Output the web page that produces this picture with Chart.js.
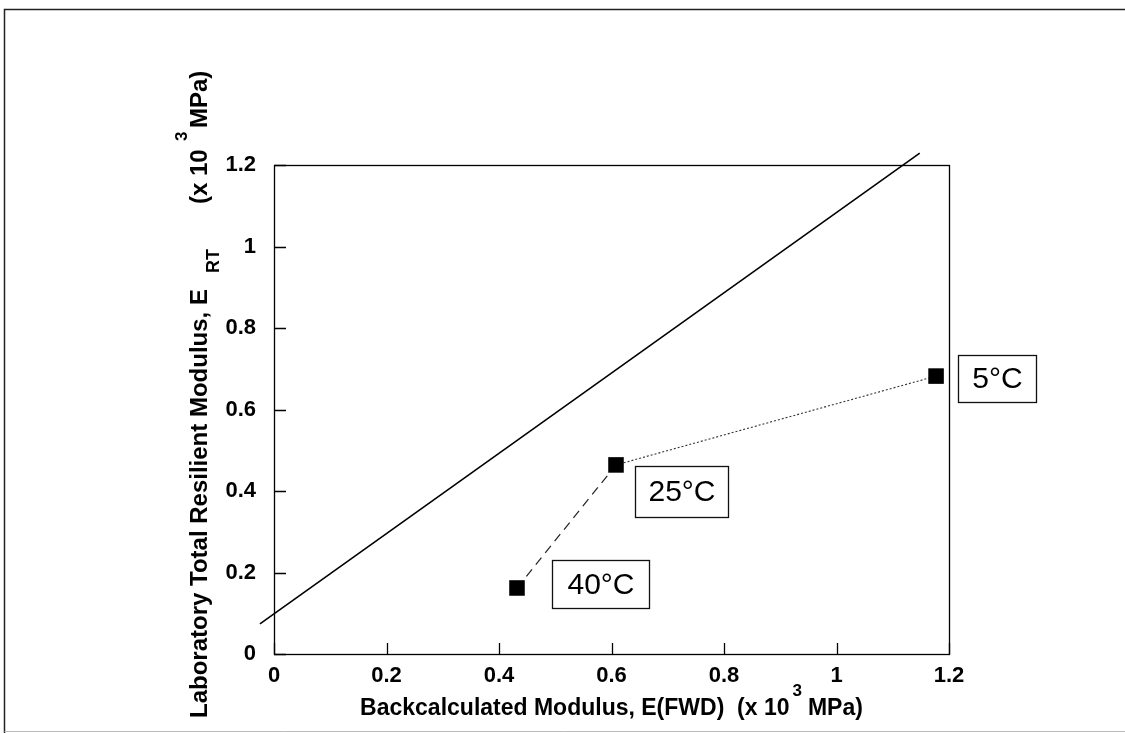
<!DOCTYPE html>
<html>
<head>
<meta charset="utf-8">
<script src="https://cdn.jsdelivr.net/npm/chart.js@4/dist/chart.umd.min.js"></script>
<style>
  html, body { margin: 0; padding: 0; background: #fff; }
  #wrap { width: 1125px; height: 733px; position: relative; }
</style>
</head>
<body>
<div id="wrap"><canvas id="c" width="1125" height="733"></canvas></div>
<script>
// ---- data ----
const tempLabels = ["40°C", "25°C", "5°C"];
const fwdModulus = [0.432, 0.608, 1.177];      // x: backcalculated E(FWD), x10^3 MPa
const labModulus = [0.162, 0.464, 0.682];      // y: lab total resilient modulus, x10^3 MPa
const equalityX = [-0.025, 1.148];
const equalityY = [0.074, 1.229];
const xTickValues = [0, 0.2, 0.4, 0.6, 0.8, 1, 1.2];
const yTickValues = [0, 0.2, 0.4, 0.6, 0.8, 1, 1.2];

const pts = fwdModulus.map((x, i) => ({ x: x, y: labModulus[i] }));
const eqLine = equalityX.map((x, i) => ({ x: x, y: equalityY[i] }));

// label box placement relative to point pixel (style only)
const boxOffsets = [
  { dx: 35, dy: -28, w: 97, h: 48 },
  { dx: 19, dy: 1, w: 93, h: 51 },
  { dx: 22, dy: -21, w: 78, h: 47 }
];

const fmt = v => String(+v.toFixed(1));
const FAM = '"Liberation Sans", Arial, sans-serif';

const decorPlugin = {
  id: 'decor',
  beforeDraw(chart) {
    const ctx = chart.ctx;
    ctx.save();
    ctx.fillStyle = '#fff';
    ctx.fillRect(0, 0, chart.width, chart.height);
    ctx.strokeStyle = '#222';
    ctx.lineWidth = 1.5;
    ctx.beginPath();
    ctx.moveTo(4.5, 733);
    ctx.lineTo(4.5, 9.5);
    ctx.lineTo(1125, 9.5);
    ctx.stroke();
    ctx.strokeStyle = '#bbb';
    ctx.lineWidth = 1;
    ctx.beginPath();
    ctx.moveTo(4.5, 731.5);
    ctx.lineTo(1125, 731.5);
    ctx.stroke();
    ctx.restore();
  },
  afterDraw(chart) {
    const ctx = chart.ctx;
    const a = chart.chartArea;
    const xs = chart.scales.x, ys = chart.scales.y;
    ctx.save();
    ctx.strokeStyle = '#000';
    ctx.lineWidth = 1.3;
    ctx.strokeRect(a.left + 0.5, a.top + 0.5, a.right - a.left, a.bottom - a.top);
    ctx.beginPath();
    xTickValues.forEach(v => {
      const px = Math.round(xs.getPixelForValue(v)) + 0.5;
      ctx.moveTo(px, a.bottom);
      ctx.lineTo(px, a.bottom - 11);
    });
    yTickValues.forEach(v => {
      const py = Math.round(ys.getPixelForValue(v)) + 0.5;
      ctx.moveTo(a.left, py);
      ctx.lineTo(a.left + 12, py);
    });
    ctx.stroke();

    // label boxes
    ctx.font = '30px ' + FAM;
    ctx.textAlign = 'center';
    ctx.textBaseline = 'middle';
    tempLabels.forEach((lab, i) => {
      const px = xs.getPixelForValue(fwdModulus[i]);
      const py = ys.getPixelForValue(labModulus[i]);
      const o = boxOffsets[i];
      const bx = Math.round(px + o.dx) + 0.5, by = Math.round(py + o.dy) + 0.5;
      ctx.fillStyle = '#fff';
      ctx.fillRect(bx, by, o.w, o.h);
      ctx.strokeStyle = '#111';
      ctx.lineWidth = 1.3;
      ctx.strokeRect(bx, by, o.w, o.h);
      ctx.fillStyle = '#000';
      ctx.fillText(lab, bx + o.w / 2, by + o.h / 2 + 1);
    });

    const big = 'bold 23px ' + FAM;
    const small = 'bold 17px ' + FAM;
    ctx.fillStyle = '#000';
    ctx.textAlign = 'left';
    ctx.textBaseline = 'alphabetic';

    function drawRich(segs, cx, baseY) {
      let total = 0;
      segs.forEach(s => { ctx.font = s.f; s.w = ctx.measureText(s.t).width; total += s.w + (s.gap || 0); });
      let x = cx - total / 2;
      segs.forEach(s => {
        ctx.font = s.f;
        ctx.fillText(s.t, x, baseY + (s.dy || 0));
        x += s.w + (s.gap || 0);
      });
    }
    const xc = (a.left + a.right) / 2;
    drawRich([
      { t: 'Backcalculated Modulus, E(FWD)  (x 10', f: big, gap: 3 },
      { t: '3', f: small, dy: -19, gap: 6 },
      { t: 'MPa)', f: big }
    ], xc, 715);

    // y title: rotated, segments at absolute positions along the axis
    ctx.save();
    ctx.translate(207, 0);
    ctx.rotate(-Math.PI / 2);
    // in rotated frame: x' = -screenY
    const ySegs = [
      { t: 'Laboratory Total Resilient Modulus, E', f: 'bold 24px ' + FAM, y: 718, dy: 0 },
      { t: 'RT', f: 'bold 18px ' + FAM, y: 273, dy: 12 },
      { t: '(x 10', f: 'bold 24px ' + FAM, y: 204, dy: 0 },
      { t: '3', f: small, y: 141, dy: -20 },
      { t: 'MPa)', f: 'bold 24px ' + FAM, y: 128, dy: 0 }
    ];
    ySegs.forEach(s => {
      ctx.font = s.f;
      ctx.fillText(s.t, -s.y, s.dy);
    });
    ctx.restore();
    ctx.restore();
  }
};

new Chart(document.getElementById('c'), {
  type: 'scatter',
  data: {
    datasets: [
      {
        data: eqLine, showLine: true, borderColor: '#000', borderWidth: 1.6,
        pointRadius: 0, clip: false, order: 3
      },
      {
        data: [pts[0], pts[1]], showLine: true, borderColor: '#222', borderWidth: 1.2,
        borderDash: [9, 6], pointRadius: 0, order: 2
      },
      {
        data: [pts[1], pts[2]], showLine: true, borderColor: '#333', borderWidth: 1.1,
        borderDash: [2, 2], pointRadius: 0, order: 2
      },
      {
        data: pts, showLine: false, pointStyle: 'rect', pointRadius: 11,
        backgroundColor: '#000', borderColor: '#000', borderWidth: 0, order: 1
      }
    ]
  },
  options: {
    responsive: false,
    animation: false,
    events: [],
    layout: { padding: { left: 0, top: 165, right: 176, bottom: 0 } },
    plugins: { legend: { display: false }, tooltip: { enabled: false } },
    scales: {
      x: {
        type: 'linear', min: 0, max: 1.2,
        afterBuildTicks: s => { s.ticks = xTickValues.map(v => ({ value: v })); },
        afterFit: s => { s.height = 79; },
        grid: { display: false, drawTicks: false },
        border: { display: false },
        ticks: {
          callback: v => fmt(v), padding: 9, maxRotation: 0, autoSkip: false,
          color: '#000', font: { family: FAM, size: 22, weight: 'bold' }
        }
      },
      y: {
        type: 'linear', min: 0, max: 1.2,
        afterBuildTicks: s => { s.ticks = yTickValues.map(v => ({ value: v })); },
        afterFit: s => { s.width = 274; },
        grid: { display: false, drawTicks: false },
        border: { display: false },
        ticks: {
          callback: v => fmt(v), padding: 18, autoSkip: false,
          color: '#000', font: { family: FAM, size: 22, weight: 'bold' }
        }
      }
    }
  },
  plugins: [decorPlugin]
});
</script>
</body>
</html>
